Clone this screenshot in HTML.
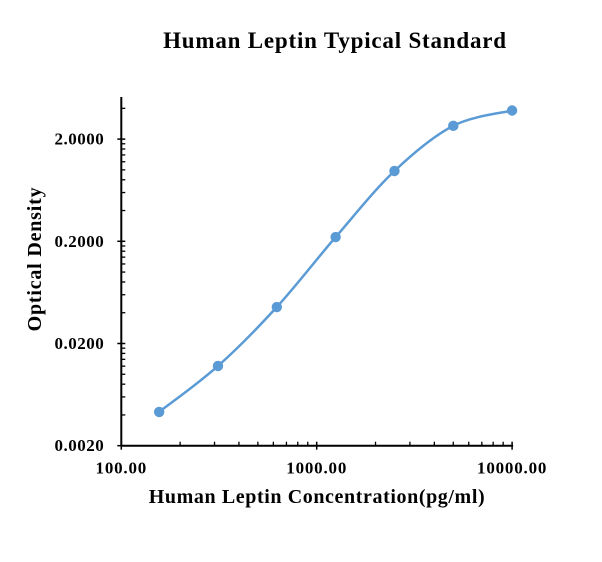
<!DOCTYPE html>
<html><head><meta charset="utf-8"><style>
html,body{margin:0;padding:0;background:#fff;}
svg text{font-family:"Liberation Serif",serif;font-weight:bold;fill:#000;}
</style></head><body>
<svg id="chart" width="602" height="557" viewBox="0 0 602 557">
<rect width="602" height="557" fill="#fff"/>
<text x="335" y="48" font-size="23" letter-spacing="0.8" text-anchor="middle">Human Leptin Typical Standard</text>
<text x="317" y="503" font-size="20" letter-spacing="0.6" text-anchor="middle">Human Leptin Concentration(pg/ml)</text>
<text transform="translate(41,259) rotate(-90)" font-size="20" letter-spacing="0.8" text-anchor="middle">Optical Density</text>
<g id="axes"></g>
<g id="series"></g>
</svg>
<script>
const xValues=[156.25,312.5,625,1250,2500,5000,10000];
const yValues=[0.00428,0.01205,0.0455,0.220,0.975,2.70,3.81];
const xTicks=[100,1000,10000];
const xTickLabels=["100.00","1000.00","10000.00"];
const yTicks=[0.002,0.02,0.2,2];
const yTickLabels=["0.0020","0.0200","0.2000","2.0000"];
const NS="http://www.w3.org/2000/svg";
const X0=121.3,XD=195.4,Y0=445.7,YD=102.2;
function sx(v){return X0+(Math.log10(v)-2)*XD;}
function sy(v){return Y0-(Math.log10(v)-Math.log10(0.002))*YD;}
function mk(tag,attrs,parent){const e=document.createElementNS(NS,tag);for(const k in attrs)e.setAttribute(k,attrs[k]);parent.appendChild(e);return e;}
const ax=document.getElementById('axes');
const yAxis=mk('line',{x1:X0,y1:97,x2:X0,y2:Y0,stroke:'#000','stroke-width':2},ax);


const xAxis=mk('line',{x1:X0,y1:Y0,x2:sx(10000)+1,y2:Y0,stroke:'#000','stroke-width':2},ax);


for(let d=0;d<4;d++){const base=0.002*Math.pow(10,d);
 for(let m=2;m<=9;m++){const v=base*m;const y=sy(v);if(y<97)break;
  mk('line',{x1:X0,y1:y,x2:X0+4,y2:y,stroke:'#000','stroke-width':1.3},ax);}
}
yTicks.forEach((v,i)=>{const y=sy(v);
 mk('line',{x1:X0-4,y1:y,x2:X0+4,y2:y,stroke:'#000','stroke-width':1.5},ax);
 const t=mk('text',{x:X0-17,y:y+5.5,'font-size':17,'letter-spacing':0.5,'text-anchor':'end'},ax);t.textContent=yTickLabels[i];
 
 
});
for(let d=0;d<2;d++){const base=100*Math.pow(10,d);
 for(let m=2;m<=9;m++){const x=sx(base*m);
  mk('line',{x1:x,y1:Y0-4,x2:x,y2:Y0,stroke:'#000','stroke-width':1.3},ax);}
}
xTicks.forEach((v,i)=>{const x=sx(v);
 mk('line',{x1:x,y1:Y0-4,x2:x,y2:Y0+4,stroke:'#000','stroke-width':1.5},ax);
 const t=mk('text',{x:x,y:Y0+28,'font-size':17,'letter-spacing':0.8,'text-anchor':'middle'},ax);t.textContent=xTickLabels[i];
 
 
});
const s=document.getElementById('series');
const pts=xValues.map((v,i)=>[sx(v),sy(yValues[i])]);
let d='M'+pts[0][0]+','+pts[0][1];
for(let i=0;i<pts.length-1;i++){
 const p0=pts[i-1]||pts[i],p1=pts[i],p2=pts[i+1],p3=pts[i+2]||pts[i+1];
 const c1=[p1[0]+(p2[0]-p0[0])/6,p1[1]+(p2[1]-p0[1])/6];
 const c2=[p2[0]-(p3[0]-p1[0])/6,p2[1]-(p3[1]-p1[1])/6];
 d+=' C'+c1+' '+c2+' '+p2;
}
const line=mk('path',{d:d,fill:'none',stroke:'#5b9bd5','stroke-width':2.5},s);


pts.forEach(p=>{const c=mk('circle',{cx:p[0],cy:p[1],r:5.2,fill:'#5b9bd5'},s);
 
 
});
</script>
</body></html>
